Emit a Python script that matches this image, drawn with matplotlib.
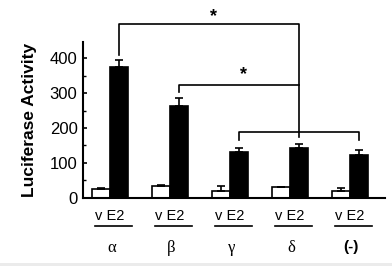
import matplotlib
matplotlib.use("Agg")
import matplotlib.pyplot as plt
from matplotlib.patches import Rectangle
import numpy as np

# Data
groups = ["α", "β", "γ", "δ", "(-)"]
vehicle = [26, 34, 20, 31, 20]
vehicle_err = [3, 3, 14, 0, 9]
e2 = [374, 263, 131, 143, 123]
e2_err = [20, 23, 12, 11, 14]
sub_label = "v E2"
yticks = [0, 100, 200, 300, 400]

plt.rcParams['font.family'] = ['Liberation Sans', 'DejaVu Sans']

fig = plt.figure(figsize=(3.92, 2.66), dpi=100)
# Light gray strip along the bottom edge, as in the source image
fig.patches.append(Rectangle((0, 0), 1, 3.5 / 266, transform=fig.transFigure,
                             facecolor="#ebebeb", edgecolor="none"))
ax = fig.add_axes([0.212, 0.256, 0.770, 0.586])

x = np.arange(len(groups))
w = 0.3

# Bars with upward-only error bars
ax.bar(x - w / 2, vehicle, w, color="white", edgecolor="black", linewidth=1.2,
       yerr=[np.zeros(len(x)), vehicle_err],
       error_kw=dict(ecolor="black", elinewidth=1.2, capsize=3, capthick=1.2))
ax.bar(x + w / 2, e2, w, color="black", edgecolor="black", linewidth=1.2,
       yerr=[np.zeros(len(x)), e2_err],
       error_kw=dict(ecolor="black", elinewidth=1.2, capsize=3, capthick=1.2))

ax.set_xlim(-0.45, 4.58)
ax.set_ylim(0, 446)
ax.set_yticks(yticks)
ax.set_yticks([50, 150, 250, 350], minor=True)
ax.set_xticks([])
ax.tick_params(axis="y", labelsize=12, length=3, width=1.2, direction="in", pad=4)
ax.tick_params(axis="y", which="minor", length=2.5, width=1.0, direction="in")
for side in ["top", "right"]:
    ax.spines[side].set_visible(False)
for side in ["left", "bottom"]:
    ax.spines[side].set_linewidth(1.5)

ax.set_ylabel("Luciferase Activity", fontsize=12.5, fontweight="bold", labelpad=9)

# Labels under each group: "v E2", underline, group name
trans = ax.get_xaxis_transform()
for i, g in enumerate(groups):
    ax.text(i, -0.115, sub_label, transform=trans, ha="center", va="center",
            fontsize=10.5, clip_on=False)
    ax.plot([i - 0.25, i + 0.37], [-0.18, -0.18], transform=trans, color="black",
            lw=1.2, clip_on=False)
    if g == "(-)":
        ax.text(i + 0.02, -0.315, g, transform=trans, ha="center", va="center",
                fontsize=11, fontweight="bold", clip_on=False)
    else:
        ax.text(i + 0.02, -0.32, g, transform=trans, ha="center", va="center",
                fontsize=12, family=["Liberation Serif", "DejaVu Serif"], clip_on=False)

# Significance brackets
kw = dict(color="black", lw=1.2, clip_on=False)
xa, xb, xg, xd, xn = x + w / 2
ax.plot([xa, xa, xd, xd], [410, 497, 497, 174], **kw)
ax.plot([xb, xb, xd], [303, 323, 323], **kw)
ax.plot([xg, xg, xn, xn], [166, 189, 189, 166], **kw)
ax.text(1.73, 520, "*", ha="center", va="center", fontsize=13, fontweight="bold", clip_on=False)
ax.text(2.22, 354, "*", ha="center", va="center", fontsize=13, fontweight="bold", clip_on=False)

fig.savefig("out.png", dpi=100)
